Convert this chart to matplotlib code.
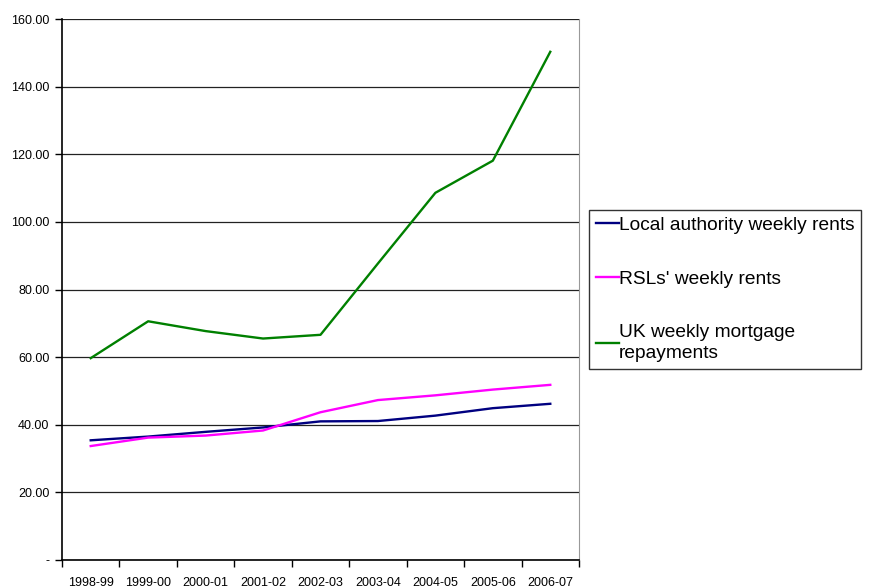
import matplotlib.pyplot as plt
import numpy as np
from matplotlib.ticker import FixedLocator, FuncFormatter

plt.rcParams['font.family'] = ['Liberation Sans', 'DejaVu Sans']

years = ['1998-99', '1999-00', '2000-01', '2001-02', '2002-03',
         '2003-04', '2004-05', '2005-06', '2006-07']
la_rents = [35.4, 36.5, 37.9, 39.2, 41.0, 41.1, 42.7, 44.9, 46.2]
rsl_rents = [33.7, 36.2, 36.8, 38.3, 43.7, 47.3, 48.7, 50.4, 51.8]
mortgage = [59.7, 70.6, 67.7, 65.5, 66.6, 87.7, 108.6, 118.1, 150.3]

fig = plt.figure(figsize=(8.69, 5.87), dpi=100)
ax = fig.add_axes([62 / 869, 27 / 587, 517 / 869, 541 / 587])

x = np.arange(len(years))
ax.plot(x, la_rents, color='#000080', lw=1.7, label='Local authority weekly rents')
ax.plot(x, rsl_rents, color='#FF00FF', lw=1.7, label="RSLs' weekly rents")
ax.plot(x, mortgage, color='#008000', lw=1.7, label='UK weekly mortgage\nrepayments')

ax.set_xlim(-0.5, len(years) - 0.5)
ax.set_ylim(0, 160)
ax.set_yticks(np.arange(0, 161, 20))
ax.yaxis.set_major_formatter(FuncFormatter(lambda v, p: '-' if v == 0 else f'{v:.2f}'))
ax.grid(axis='y', color='#222222', lw=0.9)
ax.set_axisbelow(True)

ax.set_xticks(x)
ax.set_xticklabels(years)
ax.xaxis.set_minor_locator(FixedLocator(np.arange(-0.5, len(years), 1)))
ax.tick_params(axis='x', which='major', length=0, pad=12, labelsize=9)
ax.tick_params(axis='x', which='minor', length=5, direction='out', width=1)
ax.tick_params(axis='y', length=5, direction='out', width=1, labelsize=9, pad=4)

ax.spines['top'].set_visible(False)
ax.spines['right'].set_color('#999999')
ax.spines['left'].set_linewidth(1.2)
ax.spines['bottom'].set_linewidth(1.2)

leg = ax.legend(loc='center left', bbox_to_anchor=(527 / 517, 0.5),
                frameon=True, fancybox=False, edgecolor='black',
                fontsize=13.8, handlelength=1.2, handletextpad=0.0,
                labelspacing=1.9, borderpad=0.35, borderaxespad=0)
leg.get_frame().set_linewidth(1)
for t in leg.get_texts():
    t.set_linespacing(1.3)

fig.savefig('out.png', dpi=100)
